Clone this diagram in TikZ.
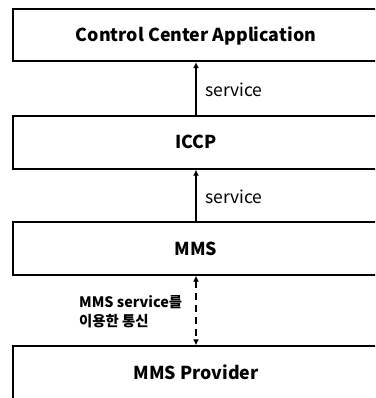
\documentclass[tikz,border=0pt]{standalone}
\usepackage{fontspec}
\setmainfont{Noto Sans CJK KR}
\usetikzlibrary{arrows.meta}
\tikzset{
  layer/.style={draw=black, line width=1.8pt, minimum width=366pt, minimum height=52.5pt, inner sep=0pt, text height=13pt, text depth=0pt, font=\bfseries\fontsize{17.8}{20}\selectfont},
  svc/.style={line width=1.3pt, -{Latex[length=6pt,width=6pt]}},
  comm/.style={line width=1.3pt, dash pattern=on 7pt off 5pt, {Latex[length=6pt,width=6pt]}-{Latex[length=6pt,width=6pt]}},
  lbl/.style={font=\fontsize{17.5}{20}\selectfont, inner sep=0pt, anchor=base west, xshift=8.5pt, yshift=-7.5pt},
  clbl/.style={font=\bfseries\fontsize{14.4}{19}\selectfont, inner sep=0pt, align=left, anchor=base west}
}
\begin{document}
\begin{tikzpicture}[x=1pt,y=-1pt]
\useasboundingbox (0,0) rectangle (375,398);
\clip (0,0) rectangle (375,398);
\node[layer] (app) at (196,35) {Control Center Application};
\node[layer] (iccp) at (196,142.5) {ICCP};
\node[layer] (mms) at (196,248.5) {MMS};
\node[layer] (prov) at (196,372.5) {MMS Provider};
\draw[svc] (iccp.north) -- node[lbl] {service} (app.south);
\draw[svc] (mms.north) -- node[lbl] {service} (iccp.south);
\draw[comm] (mms.south) -- (prov.north);
\node[clbl] (cl) at (79,326) {MMS service를\\이용한 통신};
\end{tikzpicture}
\end{document}
